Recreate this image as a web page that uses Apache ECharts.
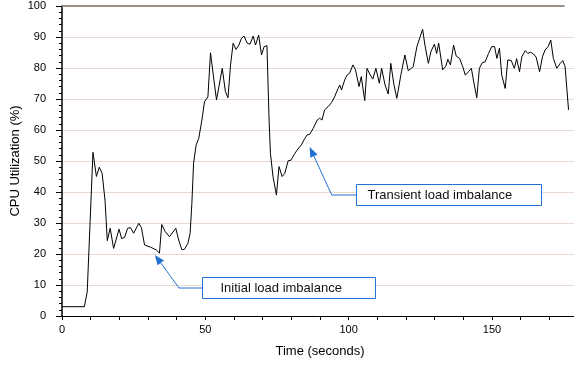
<!DOCTYPE html>
<html>
<head>
<meta charset="utf-8">
<script src="https://cdn.jsdelivr.net/npm/echarts@6/dist/echarts.min.js"></script>
<style>
  html, body { margin: 0; padding: 0; background: #fff; }
  #chart { width: 574px; height: 367px; }
</style>
</head>
<body>
<div id="chart"></div>
<script>
// CPU utilization trace: sample time (s) and utilization (%)
const timeSec = [
  0, 7.8, 8.8, 10.8, 12, 13, 14, 15, 15.8, 16.8, 18, 19.9, 20.8, 21.8, 22.9, 23.9, 25, 26.8, 27.7, 28.8,
  30.9, 32.9, 34, 34.8, 36, 37.5, 38.1, 39.7, 40.7, 41.8, 42.7, 43.9, 44.7, 45.3, 45.9, 46.8, 47.7, 48.8, 49.7, 50.9,
  51.8, 53, 53.9, 55.9, 57, 57.9, 58.8, 59.7, 60.7, 61.7, 62.6, 63.5, 64.6, 65.6, 66.7, 67.5, 68.6, 69.6, 70.5, 71.5,
  72.2, 72.7, 73.6, 74.8, 75.7, 76.8, 77.7, 78.9, 79.8, 81.2, 82, 83.5, 84.7, 85.5, 86.4, 87.6, 88.2, 89, 89.9, 90.7,
  91.6, 92.8, 94, 95.1, 96.3, 96.9, 97.5, 98.6, 99.4, 100.3, 101.5, 102.4, 103.6, 104.4, 105.6, 106.4, 107.4, 108.4, 109.5, 110.7,
  111.5, 112.7, 113.8, 114.7, 115.7, 116.8, 118.2, 119.6, 120.8, 122.5, 123.8, 125.8, 126.6, 127.8, 128.7, 129.9, 130.7, 131.4, 132.8, 133.9,
  134.6, 135.5, 136.6, 137.5, 138.7, 139.8, 140.7, 141.8, 142.8, 143.7, 144.7, 145.6, 146.6, 147.6, 148.8, 149.9, 150.9, 151.7, 152.6, 153.4,
  154.6, 155.5, 156.7, 157.8, 158.6, 159.6, 160.4, 161.6, 162.5, 163.5, 164.5, 165.4, 166.6, 167.6, 168.5, 169.6, 170.5, 171.4, 172.6, 173.8,
  174.7, 175.5, 176.7
];
const cpuPct = [
  3, 3, 7.8, 52.8, 45, 48, 46, 37.4, 24.3, 28.3, 21.8, 28, 25, 25.3, 28.3, 28.5, 26.7, 29.9, 28.5, 22.9,
  22.2, 21.3, 20.3, 29.5, 27.2, 25.6, 25.8, 28.3, 24.5, 21.4, 21.5, 23.4, 26.7, 36.3, 49.3, 55.2, 57.3, 63.2, 69.1, 70.7,
  84.9, 76.1, 69.7, 79.9, 72.4, 70.4, 81, 88, 86, 87.4, 89.6, 90.3, 88, 87.7, 90.3, 87.4, 90.6, 84.2, 86.9, 87.2,
  64.3, 52.5, 45, 39, 48.2, 45, 46, 50.1, 50.2, 52.4, 53.5, 55.2, 57.3, 58.4, 58.6, 60.5, 61.6, 63.2, 63.8, 63.2,
  66.5, 67.5, 68.8, 70.7, 73.4, 74.5, 72.9, 76.1, 77.7, 78.3, 81, 79.4, 74, 77.2, 69.5, 79.9, 78, 76.4, 79.9, 75.1,
  79.9, 74.5, 71.6, 81.5, 75.1, 70.2, 77.7, 84.2, 79.1, 80.4, 86.9, 92.5, 87.4, 81.5, 85.3, 87.7, 84.7, 88, 79.4, 80.6,
  82.8, 81, 87.4, 83.9, 83.1, 80.4, 77.7, 78.8, 79.9, 75.1, 70.4, 79.9, 81.7, 82, 84.7, 86.9, 86.9, 83.1, 86.4, 77.7,
  73.4, 82.6, 82.4, 79.9, 83, 78.8, 83.6, 85.6, 84.7, 85.1, 84.5, 83.5, 78.8, 83.6, 85.8, 86.9, 89, 83.1, 79.9, 81.5,
  82.4, 80.4, 66.5
];

// Callout notes, placed in data units: label, arrow tip, elbow, box [tLeft, vTop, tRight, vBottom]
const noteTexts = ['Initial load imbalance', 'Transient load imbalance'];
const noteTips = [[32.4, 19.7], [86.4, 54.5]];
const noteElbows = [[40.8, 9.2], [94.1, 39.2]];
const noteBoxes = [[48.8, 12.6, 109.1, 5.8], [102.4, 42.6, 166.9, 35.8]];
const noteTextInset = [18, 11];

// Top frame edge extent (s)
const frameEnd = 175.3;

const FONT = '"Liberation Sans", Arial, Helvetica, sans-serif';
const BLUE = '#2271d3';

const chart = echarts.init(document.getElementById('chart'), null, { renderer: 'canvas' });

const points = timeSec.map((t, i) => [t, cpuPct[i]]);

chart.setOption({
  animation: false,
  backgroundColor: '#fff',
  textStyle: { fontFamily: FONT },
  grid: { left: 62, right: -4, top: 6, bottom: 51, containLabel: false, outerBoundsMode: 'none' },
  xAxis: {
    type: 'value',
    min: 0, max: 180, interval: 10,
    name: 'Time (seconds)',
    nameLocation: 'middle',
    nameGap: 29,
    nameMoveOverlap: false,
    nameTextStyle: { fontFamily: FONT, fontSize: 13, color: '#000' },
    axisLine: { show: true, onZero: false, lineStyle: { color: '#000', width: 1 } },
    axisTick: { show: true, length: 4, lineStyle: { color: '#000' } },
    axisLabel: {
      fontFamily: FONT, fontSize: 11, color: '#000', margin: 8,
      showMaxLabel: false,
      formatter: v => (v % 50 === 0 ? String(v) : '')
    },
    splitLine: { show: false }
  },
  yAxis: {
    type: 'value',
    min: 0, max: 100, interval: 10,
    name: 'CPU Utilization (%)',
    nameLocation: 'middle',
    nameGap: 40,
    nameMoveOverlap: false,
    nameTextStyle: { fontFamily: FONT, fontSize: 13, color: '#000' },
    axisLine: { show: true, lineStyle: { color: '#000', width: 1.5 } },
    axisTick: { show: true, length: 6, lineStyle: { color: '#000' } },
    minorTick: { show: true, splitNumber: 5, length: 3, lineStyle: { color: '#000' } },
    axisLabel: { fontFamily: FONT, fontSize: 11, color: '#000', margin: 16 },
    splitLine: { show: true, showMinLine: false, showMaxLine: false, lineStyle: { color: '#ead9cf', width: 1 } }
  },
  series: [{
    type: 'line',
    data: points,
    showSymbol: false,
    symbol: 'none',
    lineStyle: { color: '#000', width: 1 },
    z: 3
  }]
});

// Frame edge and callouts, positioned through the axes' scales
function px(p) { return chart.convertToPixel({ gridIndex: 0 }, p); }

const elements = [];
const a = px([0, 100]), b = px([frameEnd, 100]);
elements.push({
  type: 'line', silent: true, z: 5,
  shape: { x1: a[0], y1: a[1], x2: b[0], y2: b[1] },
  style: { stroke: '#9b918b', lineWidth: 2 }
});

noteTexts.forEach((txt, i) => {
  const tip = px(noteTips[i]);
  const elbow = px(noteElbows[i]);
  const tl = px([noteBoxes[i][0], noteBoxes[i][1]]);
  const br = px([noteBoxes[i][2], noteBoxes[i][3]]);
  const boxL = Math.round(tl[0]) + 0.5, boxT = Math.round(tl[1]) + 0.5;
  const boxW = Math.round(br[0] - tl[0]), boxH = Math.round(br[1] - tl[1]);
  const midY = boxT + boxH / 2;

  // Connector: box edge -> elbow -> arrow head base
  const dx = tip[0] - elbow[0], dy = tip[1] - elbow[1];
  const len = Math.hypot(dx, dy);
  const ux = dx / len, uy = dy / len;
  const headLen = 10, headHalf = 4;
  const base = [tip[0] - ux * headLen, tip[1] - uy * headLen];

  elements.push({
    type: 'polyline', silent: true, z: 6,
    shape: { points: [[boxL, midY], [elbow[0], midY], base] },
    style: { stroke: BLUE, lineWidth: 1, fill: null }
  });
  elements.push({
    type: 'polygon', silent: true, z: 6,
    shape: { points: [
      [tip[0], tip[1]],
      [base[0] - uy * headHalf, base[1] + ux * headHalf],
      [base[0] + uy * headHalf, base[1] - ux * headHalf]
    ] },
    style: { fill: BLUE, stroke: null }
  });
  elements.push({
    type: 'rect', silent: true, z: 7,
    shape: { x: boxL, y: boxT, width: boxW, height: boxH },
    style: { fill: '#fff', stroke: BLUE, lineWidth: 1 }
  });
  elements.push({
    type: 'text', silent: true, z: 8,
    x: boxL + noteTextInset[i], y: midY + 0.5,
    style: {
      text: txt, fill: '#111', fontFamily: FONT, fontSize: 13,
      align: 'left', verticalAlign: 'middle'
    }
  });
});

chart.setOption({ graphic: { elements } });
</script>
</body>
</html>
